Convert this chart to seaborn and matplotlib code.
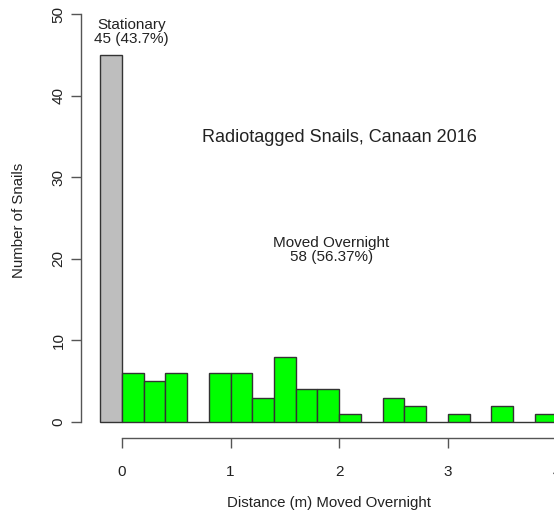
import matplotlib
matplotlib.use("Agg")
import matplotlib.pyplot as plt
import seaborn as sns

# Overnight movement of radiotagged snails, binned at 0.2 m
bin_starts = [0.0, 0.2, 0.4, 0.6, 0.8, 1.0, 1.2, 1.4, 1.6, 1.8,
              2.0, 2.2, 2.4, 2.6, 2.8, 3.0, 3.2, 3.4, 3.6, 3.8]
moved_counts = [6, 5, 6, 0, 6, 6, 3, 8, 4, 4,
                1, 0, 3, 2, 0, 1, 0, 2, 0, 1]
stationary_count = 45
bin_width = 0.2

title = "Radiotagged Snails, Canaan 2016"
x_label = "Distance (m) Moved Overnight"
y_label = "Number of Snails"
stationary_label = "Stationary\n45 (43.7%)"
moved_label = "Moved Overnight\n58 (56.37%)"
x_ticks = [0, 1, 2, 3, 4]
y_ticks = [0, 10, 20, 30, 40, 50]

sns.set_style("ticks")
plt.rcParams["font.family"] = ["Liberation Sans", "DejaVu Sans"]

fig = plt.figure(figsize=(5.54, 5.14), dpi=100)
W, H = 554, 514
left_px, right_px, top_px, bottom_px = 81, 601, -2.3, 438.3
ax = fig.add_axes([left_px / W, 1 - bottom_px / H,
                   (right_px - left_px) / W, (bottom_px - top_px) / H])

edges = list(bin_starts) + [bin_starts[-1] + bin_width]
centers = [b + bin_width / 2 for b in bin_starts]

sns.histplot(x=[-bin_width / 2], weights=[stationary_count],
             bins=[-bin_width, 0.0], color="#bebebe", alpha=1,
             edgecolor="#333333", linewidth=1.0, ax=ax)
sns.histplot(x=centers, weights=moved_counts, bins=edges,
             color="#00ff00", alpha=1, edgecolor="#333333",
             linewidth=1.0, ax=ax)

ax.set_xlim(-0.377, 4.41)
ax.set_ylim(-2, 52)

ax.spines["top"].set_visible(False)
ax.spines["right"].set_visible(False)
ax.spines["left"].set_bounds(0, 50)
ax.spines["bottom"].set_bounds(0, 4)
for s in ("left", "bottom"):
    ax.spines[s].set_color("#555555")
    ax.spines[s].set_linewidth(1.0)

ax.set_xticks(x_ticks)
ax.set_yticks(y_ticks)
ax.set_yticklabels([str(v) for v in y_ticks], rotation=90, va="center")
ax.tick_params(axis="both", length=7, width=1.0, color="#555555",
               labelsize=11, labelcolor="#222222")
ax.tick_params(axis="x", pad=12)
ax.tick_params(axis="y", pad=4)

ax.set_xlabel(x_label, fontsize=10.8, color="#222222")
ax.set_ylabel(y_label, fontsize=10.8, color="#222222")
ax.xaxis.set_label_coords((329 - left_px) / (right_px - left_px),
                          (bottom_px - 496) / (bottom_px - top_px))
ax.yaxis.set_label_coords((26 - left_px) / (right_px - left_px),
                          (bottom_px - 220) / (bottom_px - top_px))

ax.text(0.09, 47.8, stationary_label, ha="center", va="center",
        fontsize=11, color="#222222", linespacing=1.05)
ax.text(1.93, 21.1, moved_label, ha="center", va="center",
        fontsize=11, color="#222222", linespacing=1.05)
ax.text(2.006, 34.9, title, ha="center", va="center", fontsize=13,
        color="#222222")

fig.savefig("out.png", dpi=100)
